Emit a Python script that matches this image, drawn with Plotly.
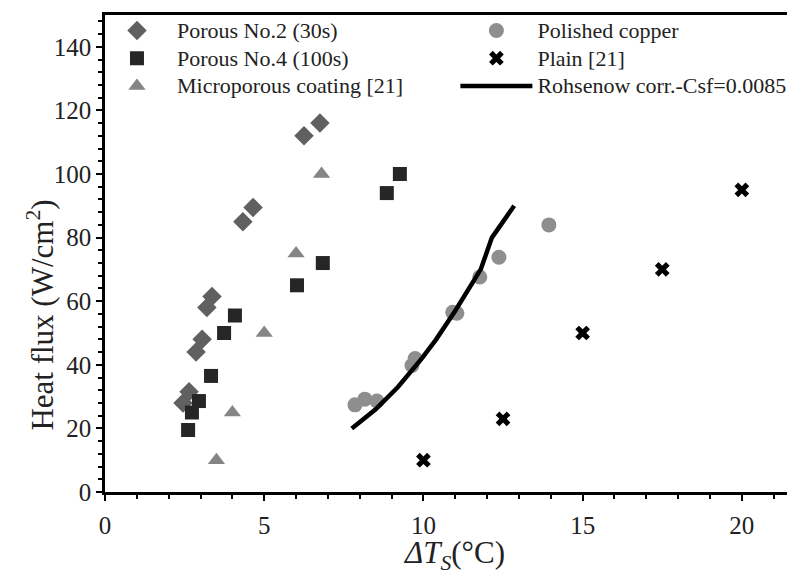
import plotly.graph_objects as go

# Data
porous2_x = [2.45, 2.64, 2.86, 3.05, 3.2, 3.36, 4.33, 4.65, 6.25, 6.75]
porous2_y = [28, 31.5, 44, 48, 58, 61.5, 85, 89.5, 112, 116]

porous4_x = [2.61, 2.73, 2.95, 3.33, 3.74, 4.08, 6.03, 6.84, 8.85, 9.26]
porous4_y = [19.5, 25, 28.6, 36.5, 50, 55.5, 65, 72, 94, 100]

micro_x = [3.5, 4.0, 5.0, 6.0, 6.8]
micro_y = [10, 25, 50, 75, 100]

copper_x = [7.85, 8.16, 8.54, 9.64, 9.74, 10.92, 11.05, 11.77, 12.37, 13.94]
copper_y = [27.4, 29.2, 28.6, 39.8, 42, 56.5, 56.2, 67.6, 73.8, 84]

plain_x = [10, 12.5, 15, 17.5, 20]
plain_y = [10, 23, 50, 70, 95]

rohsenow_x = [7.75, 8.5, 9.2, 9.95, 10.4, 11.0, 11.8, 12.15, 12.85]
rohsenow_y = [20, 26, 33, 42, 48, 57, 70, 80, 90]

FONT = "Liberation Serif"


def big(name):
    return '<span style="font-size:22px">' + name + '</span>'


fig = go.Figure()
fig.add_trace(go.Scatter(x=porous2_x, y=porous2_y, mode="markers", name=big("Porous No.2 (30s)"),
                         marker=dict(symbol="diamond", size=15, color="#606060"), legend="legend"))
fig.add_trace(go.Scatter(x=porous4_x, y=porous4_y, mode="markers", name=big("Porous No.4 (100s)"),
                         marker=dict(symbol="square", size=14, color="#262626"), legend="legend"))
fig.add_trace(go.Scatter(x=micro_x, y=micro_y, mode="markers", name=big("Microporous coating [21]"),
                         marker=dict(symbol="triangle-up", size=15, color="#858585"), legend="legend"))
fig.add_trace(go.Scatter(x=copper_x, y=copper_y, mode="markers", name=big("Polished copper"),
                         marker=dict(symbol="circle", size=15, color="#8e8e8e"), legend="legend2"))
fig.add_trace(go.Scatter(x=plain_x, y=plain_y, mode="markers", name=big("Plain [21]"),
                         marker=dict(symbol="x", size=13, color="#000000"), legend="legend2"))
fig.add_trace(go.Scatter(x=rohsenow_x, y=rohsenow_y, mode="lines", name=big("Rohsenow corr.-Csf=0.0085"),
                         line=dict(color="#000000", width=4.5), legend="legend2"))

axis_common = dict(
    showline=True, linecolor="black", linewidth=2.5,
    ticks="outside", ticklen=6, tickwidth=2, tickcolor="black",
    showgrid=False, zeroline=False, automargin=False,
    tickfont=dict(family=FONT, size=25, color="#222"),
)

fig.update_xaxes(range=[0, 21.92], dtick=5, tick0=0, mirror=True,
                 minor=dict(dtick=1, ticks="outside", ticklen=4, tickwidth=2, tickcolor="black"),
                 ticklabelstandoff=3, **axis_common)
fig.update_yaxes(range=[0, 150], dtick=20, tick0=0,
                 minor=dict(dtick=4, ticks="outside", ticklen=4, tickwidth=2, tickcolor="black"),
                 ticklabelstandoff=0, **axis_common)

fig.add_annotation(text="Heat flux (W/cm<sup>2</sup>)", textangle=-90, xref="paper", yref="paper",
                   x=-0.093, y=0.37, showarrow=False, xanchor="center", yanchor="middle",
                   font=dict(family=FONT, size=31, color="#222"))
fig.add_annotation(text="<i>ΔT<sub>S</sub></i>(°C)", xref="paper", yref="paper",
                   x=0.5, y=-0.133, showarrow=False, xanchor="center", yanchor="middle",
                   font=dict(family=FONT, size=31, color="#222"))

legend_common = dict(bgcolor="rgba(0,0,0,0)", font=dict(family=FONT, size=19, color="#222"),
                     yanchor="top", xanchor="left", tracegroupgap=0)
fig.update_layout(
    width=795, height=570,
    margin=dict(l=97, r=0, t=7, b=86, autoexpand=False),
    plot_bgcolor="white", paper_bgcolor="white",
    legend=dict(x=-0.0115, y=1.007, itemwidth=70, **legend_common),
    legend2=dict(x=0.502, y=1.007, itemwidth=72, **legend_common),
)

fig.write_html("out.html")
